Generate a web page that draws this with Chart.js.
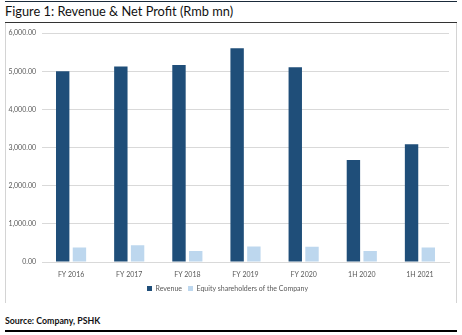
<!DOCTYPE html>
<html><head><meta charset="utf-8">
<script src="https://cdn.jsdelivr.net/npm/chart.js@4"></script>
<style>
html,body{margin:0;padding:0;background:#fff;width:462px;height:335px;overflow:hidden;font-family:Lato,"Open Sans",sans-serif;}
#topline{position:absolute;left:5px;top:1px;width:452px;height:1px;background:#1a2a3a;}
#title{position:absolute;left:5px;top:3px;font-size:12.8px;color:#111;white-space:nowrap;}
#midline{position:absolute;left:5px;top:22px;width:452px;height:1px;background:#333;}
#box{position:absolute;left:5px;top:23px;width:450px;height:280px;border-left:1px solid #d4d4d4;border-right:1px solid #d4d4d4;}
#wrap{position:absolute;left:6px;top:23px;width:450px;height:280px;}
#source{position:absolute;left:5px;top:315px;font-size:8.8px;font-weight:bold;color:#111;white-space:nowrap;}
#botline{position:absolute;left:5px;top:330px;width:452px;height:2px;background:#000;}
</style></head>
<body>
<div id="topline"></div>
<div id="title">Figure 1: Revenue &amp; Net Profit (Rmb mn)</div>
<div id="midline"></div>
<div id="box"></div>
<div id="wrap"><canvas id="c" width="450" height="280"></canvas></div>
<div id="source">Source: Company, PSHK</div>
<div id="botline"></div>
<script>
const categories = ["FY 2016","FY 2017","FY 2018","FY 2019","FY 2020","1H 2020","1H 2021"];
const revenue = [5000, 5130, 5165, 5605, 5105, 2675, 3090];
const equityShareholders = [382, 440, 286, 408, 400, 286, 382];
const seriesNames = ["Revenue","Equity shareholders of the Company"];

new Chart(document.getElementById('c'), {
  type: 'bar',
  data: {
    labels: categories,
    datasets: [
      {label: seriesNames[0], data: revenue, backgroundColor: '#1f4e79', categoryPercentage: 0.576, barPercentage: 0.8},
      {label: seriesNames[1], data: equityShareholders, backgroundColor: '#bdd7ee', categoryPercentage: 0.576, barPercentage: 0.8}
    ]
  },
  options: {
    responsive: false,
    animation: false,
    layout: {padding: {left: 0, right: 7, top: -2, bottom: 1}},
    plugins: {
      legend: {
        position: 'bottom',
        labels: {boxWidth: 5, boxHeight: 5, padding: 6, color: '#595959', font: {size: 7, family: 'Lato'}}
      },
      tooltip: {enabled: false}
    },
    scales: {
      x: {
        afterFit: s => { s.height = 17; },
        grid: {display: false, drawTicks: false},
        border: {display: true, color: '#d9d9d9'},
        ticks: {color: '#595959', font: {size: 7, family: 'Lato'}, padding: 9, maxRotation: 0}
      },
      y: {
        min: 0, max: 6000,
        afterFit: s => { s.width = 36; },
        grid: {color: '#d9d9d9', drawTicks: false},
        border: {display: false},
        ticks: {
          stepSize: 1000, color: '#595959', font: {size: 7, family: 'Lato'}, padding: 6,
          callback: v => v.toLocaleString('en-US', {minimumFractionDigits: 2, maximumFractionDigits: 2})
        }
      }
    }
  }
});
</script>
</body></html>
